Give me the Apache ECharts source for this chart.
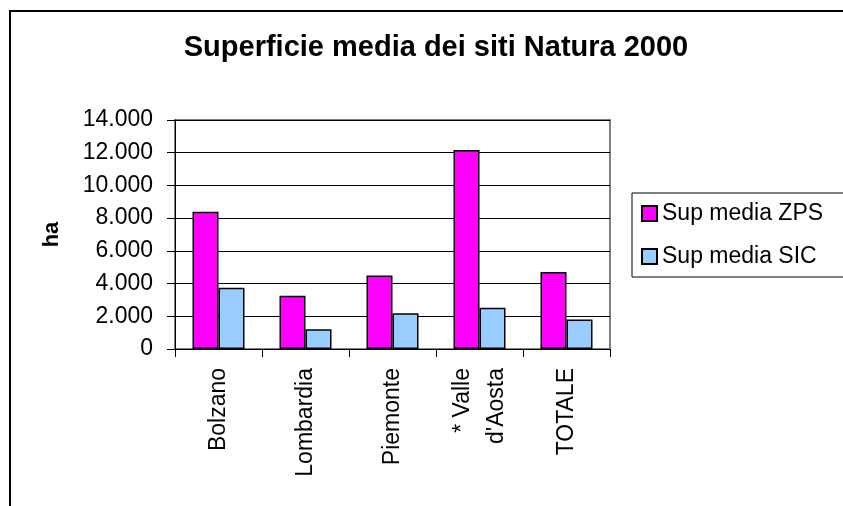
<!DOCTYPE html>
<html>
<head>
<meta charset="utf-8">
<script src="https://cdn.jsdelivr.net/npm/echarts@6/dist/echarts.min.js"></script>
<style>
	html, body { margin: 0; padding: 0; background: #fff; }
	#chart { width: 843px; height: 506px; }
</style>
</head>
<body>
<div id="chart"></div>
<script>
	// dati
	var categories = ['Bolzano', 'Lombardia', 'Piemonte', "* Valle\nd'Aosta", 'TOTALE'];
	var supZPS = [8390, 3260, 4500, 12160, 4710];
	var supSIC = [3750, 1200, 2180, 2520, 1810];
	var seriesNames = ['Sup media ZPS', 'Sup media SIC'];
	var yTicks = { min: 0, max: 14000, step: 2000 };

	var font = 'Arial, "Liberation Sans", sans-serif';

	//separatore migliaia "."
	function fmt(v) {
		return String(v).replace(/\B(?=(\d{3})+(?!\d))/g, '.');
	}

	var myChart = echarts.init(document.getElementById('chart'), null, { renderer: 'canvas' });

	myChart.setOption({
		backgroundColor: '#fff',
		animation: false,
		title: {
			text: 'Superficie media dei siti Natura 2000',
			left: 431,
			top: 28,
			textAlign: 'center',
			textStyle: { fontFamily: font, fontSize: 29, fontWeight: 'bold', color: '#000' }
		},
		graphic: [{
			type: 'rect',
			shape: { x: 10, y: 11, width: 1000, height: 1000 },
			style: { fill: 'none', stroke: '#000', lineWidth: 2 },
			silent: true
		}],
		legend: {
			orient: 'vertical',
			left: 632,
			top: 193,
			itemWidth: 15,
			itemHeight: 15,
			itemGap: 20,
			padding: [9, 30, 9, 9],
			borderColor: '#000',
			borderWidth: 1,
			icon: 'rect',
			textStyle: { fontFamily: font, fontSize: 23, color: '#000' },
			data: seriesNames
		},
		grid: {
			left: 175,
			right: 233,
			top: 120,
			bottom: 157,
			show: true,
			borderColor: '#808080',
			borderWidth: 2
		},
		xAxis: {
			type: 'category',
			data: categories,
			axisLine: { lineStyle: { color: '#000', width: 1 } },
			axisTick: { show: true, length: 8, lineStyle: { color: '#000' } },
			axisLabel: {
				rotate: 90,
				margin: 19,
				interval: 0,
				lineHeight: 34,
				fontFamily: font,
				fontSize: 23,
				color: '#000'
			}
		},
		yAxis: {
			type: 'value',
			min: yTicks.min,
			max: yTicks.max,
			interval: yTicks.step,
			name: 'ha',
			nameLocation: 'middle',
			nameGap: 112,
			nameRotate: 90,
			nameTextStyle: { fontFamily: font, fontSize: 22, fontWeight: 'bold', color: '#000' },
			axisLine: { show: true, lineStyle: { color: '#000', width: 1 } },
			axisTick: { show: true, inside: false, length: 8, lineStyle: { color: '#000' } },
			axisLabel: {
				margin: 22,
				fontFamily: font,
				fontSize: 23,
				color: '#000',
				formatter: fmt
			},
			splitLine: { show: true, lineStyle: { color: '#000', width: 1 } }
		},
		series: [{
			name: seriesNames[0],
			type: 'bar',
			data: supZPS,
			barWidth: 26,
			barGap: '0%',
			itemStyle: { color: '#FF00FF', borderColor: '#000', borderWidth: 1.5 }
		}, {
			name: seriesNames[1],
			type: 'bar',
			data: supSIC,
			barWidth: 26,
			itemStyle: { color: '#99CCFF', borderColor: '#000', borderWidth: 1.5 }
		}]
	});
</script>
</body>
</html>
